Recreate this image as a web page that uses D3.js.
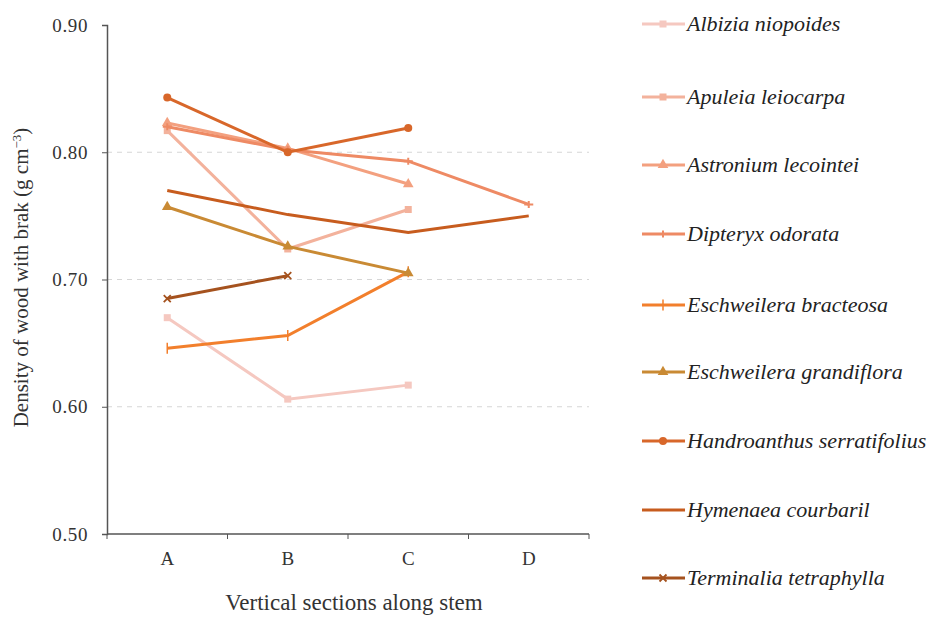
<!DOCTYPE html>
<html>
<head>
<meta charset="utf-8">
<script src="https://cdn.jsdelivr.net/npm/d3@7"></script>
<style>
  body { margin: 0; background: #fff; }
</style>
</head>
<body>
<svg id="drawing_region"></svg>
<script>
// sections along the stem
const sections = ['A', 'B', 'C', 'D'];
const yTicks = [0.5, 0.6, 0.7, 0.8, 0.9];

// density per species (null = section not measured)
const albizia      = [0.670, 0.606, 0.617, null];
const apuleia      = [0.817, 0.724, 0.755, null];
const astronium    = [0.823, 0.803, 0.775, null];
const dipteryx     = [0.820, 0.802, 0.793, 0.759];
const eschBract    = [0.646, 0.656, 0.706, null];
const eschGrand    = [0.757, 0.726, 0.705, null];
const handroanthus = [0.843, 0.800, 0.819, null];
const hymenaea     = [0.770, 0.751, 0.737, 0.750];
const terminalia   = [0.685, 0.703, null, null];

const seriesNames = ['Albizia niopoides', 'Apuleia leiocarpa', 'Astronium lecointei', 'Dipteryx odorata',
  'Eschweilera bracteosa', 'Eschweilera grandiflora', 'Handroanthus serratifolius', 'Hymenaea courbaril',
  'Terminalia tetraphylla'];
const seriesValues = [albizia, apuleia, astronium, dipteryx, eschBract, eschGrand, handroanthus, hymenaea, terminalia];
const colors = ['#f5c8c0', '#f3b29c', '#f3a07f', '#ee8a64', '#f27f2c', '#c98a34', '#d8672a', '#c75c1e', '#a5521e'];
const markers = ['square', 'square', 'triangle', 'dash', 'plus', 'triangle', 'circle', 'none', 'cross'];

const series = seriesNames.map((name, i) => ({
  name: name, color: colors[i], marker: markers[i],
  values: seriesValues[i].map((v, j) => ({ s: sections[j], v: v })).filter(d => d.v !== null)
}));

const width = 932, height = 617;
const margin = { top: 25, right: 343, bottom: 83, left: 107 };
const innerW = width - margin.left - margin.right;
const innerH = height - margin.top - margin.bottom;
const serif = "'Liberation Serif'";

const svg = d3.select('#drawing_region').attr('width', width).attr('height', height);
const chart = svg.append('g').attr('transform', `translate(${margin.left},${margin.top})`);

const x = d3.scaleBand().domain(sections).range([0, innerW]);
const y = d3.scaleLinear().domain([0.5, 0.9]).range([innerH, 0]);

// dashed gridlines
chart.selectAll('.grid')
  .data(yTicks.filter(t => t > 0.5 && t < 0.9))
  .enter().append('line')
  .attr('x1', 0).attr('x2', innerW)
  .attr('y1', d => y(d)).attr('y2', d => y(d))
  .attr('stroke', '#d6d6d6').attr('stroke-dasharray', '5,5');

// y axis
const yAxis = chart.append('g')
  .call(d3.axisLeft(y).tickValues(yTicks).tickFormat(d3.format('.2f')).tickSize(5).tickPadding(14));
yAxis.select('.domain').attr('stroke', '#555').attr('stroke-width', 1.5);
yAxis.selectAll('.tick line').attr('stroke', '#555');
yAxis.selectAll('text').style('font-size', '19px').style('font-family', serif)
  .style('letter-spacing', '0.6px').attr('fill', '#333');

// x axis with ticks at band boundaries
const xAxisG = chart.append('g').attr('transform', `translate(0,${innerH})`);
xAxisG.append('line').attr('x1', 0).attr('x2', innerW).attr('stroke', '#555').attr('stroke-width', 1.5);
const bounds = sections.map(s => x(s)).concat([innerW]);
xAxisG.selectAll('.xt').data(bounds).enter().append('line')
  .attr('x1', d => d).attr('x2', d => d).attr('y1', 0).attr('y2', 5).attr('stroke', '#555');
xAxisG.selectAll('.xl').data(sections).enter().append('text')
  .attr('x', d => x(d) + x.bandwidth() / 2).attr('y', 31)
  .attr('text-anchor', 'middle').attr('fill', '#333')
  .style('font-size', '19px').style('font-family', serif)
  .text(d => d);

// axis titles
svg.append('text')
  .attr('x', margin.left + innerW / 2 + 6).attr('y', 610)
  .attr('text-anchor', 'middle').attr('fill', '#333')
  .style('font-size', '23px').style('font-family', serif)
  .text('Vertical sections along stem');
const yt = svg.append('text')
  .attr('transform', `translate(28,${margin.top + innerH / 2 - 2}) rotate(-90)`)
  .attr('text-anchor', 'middle').attr('fill', '#333')
  .style('font-size', '21px').style('font-family', serif);
yt.append('tspan').text('Density of wood with brak (g cm');
yt.append('tspan').attr('dy', -7).style('font-size', '13px').text('−3');
yt.append('tspan').attr('dy', 7).text(')');

function drawMarker(g, type, color, size) {
  const s = size;
  if (type === 'square') g.append('rect').attr('x', -s).attr('y', -s).attr('width', 2 * s).attr('height', 2 * s).attr('fill', color);
  else if (type === 'circle') g.append('circle').attr('r', s + 0.5).attr('fill', color);
  else if (type === 'triangle') g.append('path').attr('d', d3.symbol(d3.symbolTriangle, s * s * 4)()).attr('fill', color);
  else if (type === 'plus') g.append('path').attr('d', `M0,${-s - 2}V${s + 2}`).attr('stroke', color).attr('stroke-width', 1.5);
  else if (type === 'dash') g.append('path').attr('d', `M${-s - 1},0H${s + 1}M0,${-s}V${s}`).attr('stroke', color).attr('stroke-width', 2);
  else if (type === 'cross') g.append('path').attr('d', `M${-s},${-s}L${s},${s}M${-s},${s}L${s},${-s}`).attr('stroke', color).attr('stroke-width', 1.8);
}

const line = d3.line().x(d => x(d.s) + x.bandwidth() / 2).y(d => y(d.v));

const lines = chart.selectAll('.series').data(series).enter().append('g');
lines.append('path')
  .attr('d', d => line(d.values))
  .attr('fill', 'none').attr('stroke', d => d.color).attr('stroke-width', 3);
lines.each(function (d) {
  const g = d3.select(this);
  d.values.forEach(p => {
    const m = g.append('g').attr('transform', `translate(${x(p.s) + x.bandwidth() / 2},${y(p.v)})`);
    drawMarker(m, d.marker, d.color, 3.5);
  });
});

// legend
const legendY = [24, 97, 165, 234, 305, 372, 441, 510, 578];
const legend = svg.selectAll('.legend').data(series).enter().append('g')
  .attr('transform', (d, i) => `translate(642,${legendY[i]})`);
legend.append('line').attr('x1', 0).attr('x2', 43).attr('stroke', d => d.color).attr('stroke-width', 3);
legend.each(function (d) {
  const m = d3.select(this).append('g').attr('transform', 'translate(21,0)');
  drawMarker(m, d.marker, d.color, 3.5);
});
legend.append('text')
  .attr('x', 45).attr('y', 7).attr('fill', '#222')
  .style('font-size', '22px').style('font-style', 'italic').style('font-family', serif)
  .text(d => d.name);
</script>
</body>
</html>
